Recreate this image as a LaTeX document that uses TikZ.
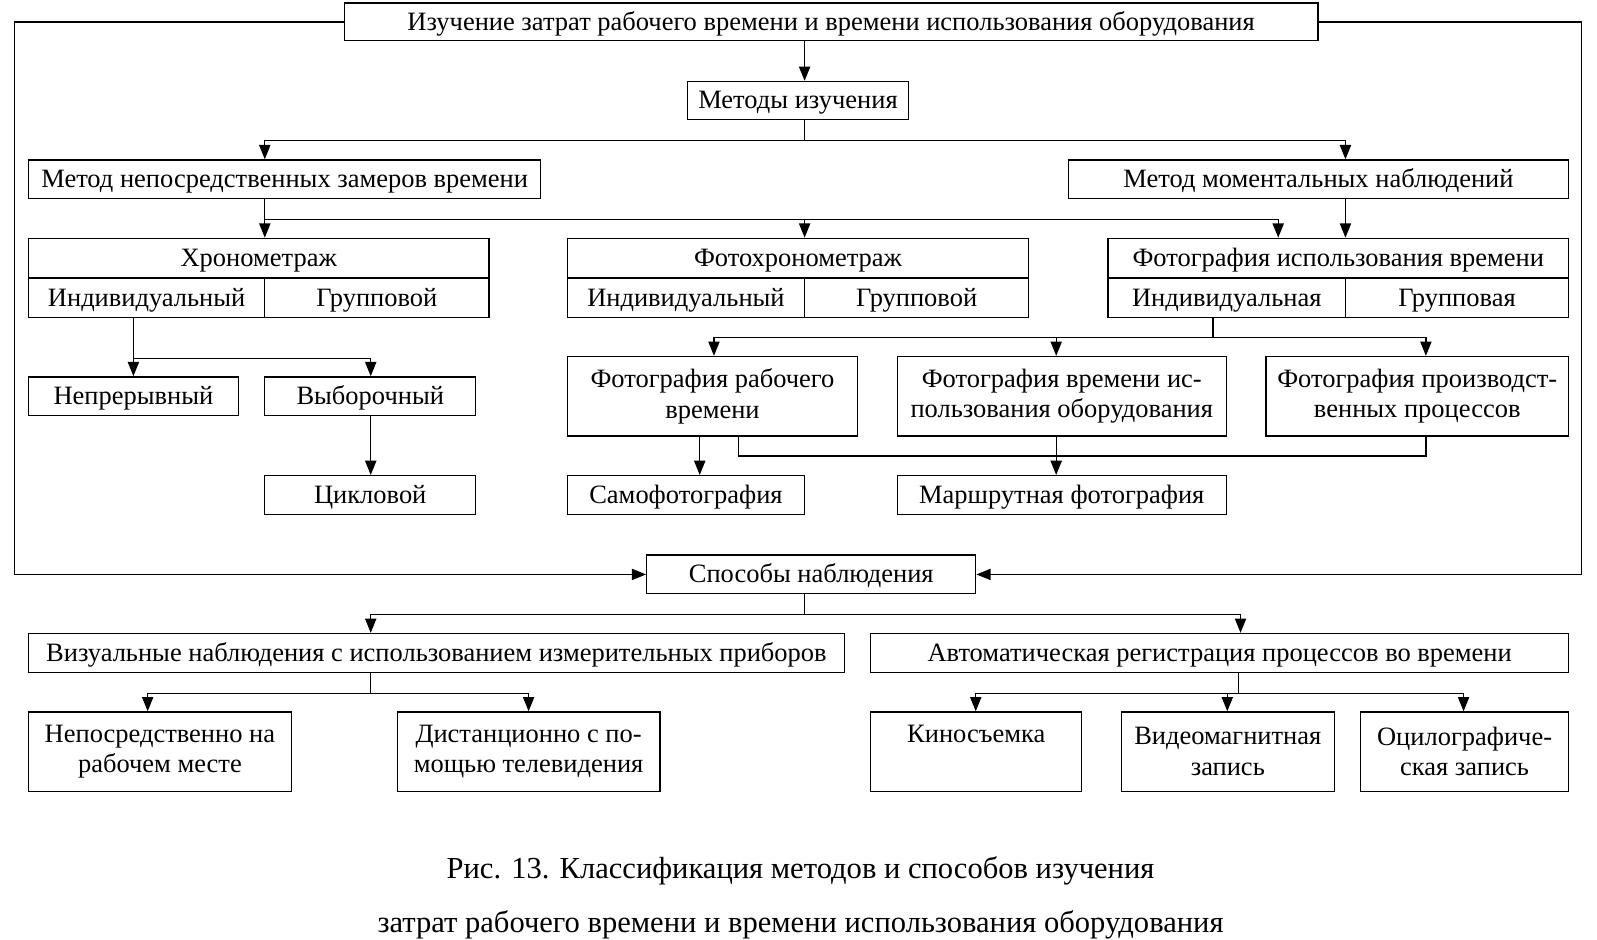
\documentclass[tikz,border=0pt]{standalone}
\usepackage{fontspec}
\setmainfont{Liberation Serif}
\usetikzlibrary{arrows.meta}

\begin{document}
\begin{tikzpicture}[
    x=1pt, y=-1pt,
    % Styles
    every node/.style={font=\fontsize{26}{30}\selectfont},
    box/.style={draw, line width=1.3pt, inner sep=0pt, text height=20pt, text depth=4pt},  % one line of text
    tallbox/.style={draw, line width=1.3pt, inner sep=0pt, align=center, minimum height=78pt}, % two lines
    link/.style={line width=1.3pt},
    arr/.style={line width=1.3pt, -{Triangle[length=14pt,width=11pt]}}
]
  \useasboundingbox (0,0) rectangle (1568,922);

  % Top of the tree
  \node[box, minimum width=956pt, minimum height=37pt] (study) at (816,21.5)
    {Изучение затрат рабочего времени и времени использования оборудования};
  \node[box, minimum width=217pt, minimum height=37pt] (methods) at (783.5,98.5) {Методы изучения};

  % Two methods
  \node[box, minimum width=503pt, minimum height=38pt] (direct) at (279.5,176) {Метод непосредственных замеров времени};
  \node[box, minimum width=491pt, minimum height=38pt] (moment) at (1294.5,176) {Метод моментальных наблюдений};

  % Kinds of study, each with individual / group halves
  \node[box, minimum width=452pt, minimum height=39pt] (chrono) at (254,253.5) {Хронометраж};
  \node[box, minimum width=232pt, minimum height=39pt] (chronoInd) at (144,292.5) {Индивидуальный};
  \node[box, minimum width=220pt, minimum height=39pt] (chronoGrp) at (370,292.5) {Групповой};

  \node[box, minimum width=453pt, minimum height=39pt] (photochrono) at (783.5,253.5) {Фотохронометраж};
  \node[box, minimum width=233pt, minimum height=39pt] (photochronoInd) at (673.5,292.5) {Индивидуальный};
  \node[box, minimum width=220pt, minimum height=39pt] (photochronoGrp) at (900,292.5) {Групповой};

  \node[box, minimum width=452pt, minimum height=39pt] (photouse) at (1314,253.5) {Фотография использования времени};
  \node[box, minimum width=233pt, minimum height=39pt] (photouseInd) at (1204.5,292.5) {Индивидуальная};
  \node[box, minimum width=219pt, minimum height=39pt] (photouseGrp) at (1430.5,292.5) {Групповая};

  % Timing variants
  \node[box, minimum width=206pt, minimum height=38pt] (cont) at (131,389) {Непрерывный};
  \node[box, minimum width=207pt, minimum height=38pt] (sample) at (363.5,389) {Выборочный};
  \node[box, minimum width=207pt, minimum height=38pt] (cycle) at (363.5,486) {Цикловой};

  % Photography variants
  \node[tallbox, minimum width=285pt] (photoWork) at (699.5,389) {Фотография рабочего\\времени};
  \node[tallbox, minimum width=323pt] (photoEquip) at (1042.5,389) {Фотография времени ис-\\пользования оборудования};
  \node[tallbox, minimum width=297pt] (photoProc) at (1391.5,389) {Фотография производст-\\венных процессов};
  \node[box, minimum width=233pt, minimum height=38pt] (self) at (673.5,486) {Самофотография};
  \node[box, minimum width=323pt, minimum height=38pt] (route) at (1042.5,486) {Маршрутная фотография};

  % Ways of observing
  \node[box, minimum width=323pt, minimum height=38pt] (ways) at (796.5,564) {Способы наблюдения};
  \node[box, minimum width=801pt, minimum height=38pt] (visual) at (428.5,641) {Визуальные наблюдения с использованием измерительных приборов};
  \node[box, minimum width=685pt, minimum height=38pt] (auto) at (1197.5,641) {Автоматическая регистрация процессов во времени};
  \node[tallbox, minimum width=258pt] (onsite) at (157,738) {Непосредственно на\\рабочем месте};
  \node[tallbox, minimum width=258pt] (remote) at (519,738) {Дистанционно с по-\\мощью телевидения};
  \node[box, minimum width=207pt, minimum height=78pt, text height=17pt, text depth=35pt] (film) at (958.5,738) {Киносъемка};
  \node[tallbox, minimum width=209pt] (video) at (1205.5,738) {Видеомагнитная\\запись};
  \node[tallbox, minimum width=204pt] (oscil) at (1438,738) {Оцилографиче-\\ская запись};

  % Caption
  \node[font=\fontsize{30}{53}\selectfont, align=center] (caption) at (786,882)
    {Рис. 13. Классификация методов и способов изучения\\затрат рабочего времени и времени использования оборудования};

  % Outer frame from the title down to the ways of observing
  \coordinate (frameL) at (14,564);
  \coordinate (frameR) at (1553,564);
  \draw[arr] (study.west) -| (frameL) -- (ways.west);
  \draw[arr] (study.east) -| (frameR) -- (ways.east);

  % Methods
  \draw[arr] (study.south -| 790,0) -- (methods.north -| 790,0);
  \draw[link] (methods.south -| 790,0) -- ++(0,20) coordinate (busA);
  \draw[arr] (busA) -| (direct.north -| 260,0);
  \draw[arr] (busA) -| (moment.north -| 1321,0);

  % Direct measuring -> three kinds
  \draw[link] (direct.south -| 260,0) -- ++(0,20) coordinate (busB);
  \draw[arr] (busB) -- (chrono.north -| busB);
  \draw[arr] (busB) -| (photochrono.north -| 790,0);
  \draw[arr] (busB) -| (photouse.north -| 1255,0);
  \draw[arr] (moment.south -| 1321,0) -- (photouse.north -| 1321,0);

  % Chronometry -> variants
  \draw[link] (chronoInd.south -| 131,0) -- ++(0,39) coordinate (busC);
  \draw[arr] (busC) -- (cont.north -| busC);
  \draw[arr] (busC) -| (sample.north -| 364,0);
  \draw[arr] (sample.south -| 364,0) -- (cycle.north -| 364,0);

  % Use of time -> photographs
  \draw[link] (photouseInd.south -| 1191,0) -- ++(0,19) coordinate (busD);
  \foreach \x/\n in {701/photoWork, 1037/photoEquip, 1400/photoProc}
    \draw[arr] (busD) -| (\n.north -| \x,0);
  \draw[arr] (photoWork.south -| 687,0) -- (self.north -| 687,0);
  \draw[arr] (photoEquip.south -| 1037,0) -- (route.north -| 1037,0);
  \draw[link] (photoWork.south -| 725,0) -- ++(0,19) -| (photoProc.south -| 1400,0);

  % Ways -> visual / automatic
  \draw[link] (ways.south -| 790,0) -- ++(0,20) coordinate (busE);
  \draw[arr] (busE) -| (visual.north -| 364,0);
  \draw[arr] (busE) -| (auto.north -| 1218,0);

  \draw[link] (visual.south -| 364,0) -- ++(0,20) coordinate (busF);
  \draw[arr] (busF) -| (onsite.north -| 145,0);
  \draw[arr] (busF) -| (remote.north);

  \draw[link] (auto.south -| 1216,0) -- ++(0,20) coordinate (busG);
  \foreach \x/\n in {958/film, 1205/video, 1437/oscil}
    \draw[arr] (busG) -| (\n.north -| \x,0);

\end{tikzpicture}
\end{document}
